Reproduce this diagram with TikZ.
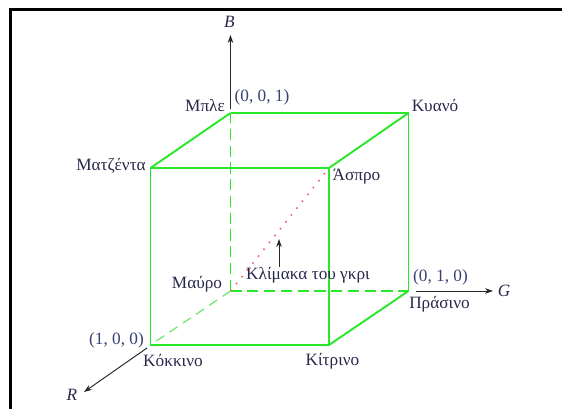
\documentclass[tikz,border=0pt]{standalone}
\usepackage{fontspec}
\setmainfont{Liberation Serif}
\usepackage{xcolor}
\definecolor{cubegreen}{RGB}{40,232,40}
\definecolor{palegreen}{RGB}{110,232,110}
\definecolor{greyred}{RGB}{245,95,95}
\definecolor{inkblue}{RGB}{40,40,75}
\definecolor{coordblue}{RGB}{55,65,115}
\usetikzlibrary{arrows.meta, positioning}

\begin{document}
\begin{tikzpicture}[x=0.022cm, y=-0.022cm,
    edge/.style={cubegreen, line width=0.8pt},
    boldedge/.style={cubegreen, line width=1.2pt},
    hidden/.style={cubegreen, line width=1.2pt, dash pattern=on 7pt off 3.5pt},
    faint/.style={palegreen, line width=0.8pt, dash pattern=on 6pt off 4pt},
    axis/.style={black!85, line width=0.6pt, -{Stealth[length=5pt,width=3.5pt]}},
    lbl/.style={text=inkblue, inner sep=1pt, font=\fontsize{10.8}{13}\selectfont},
    crd/.style={lbl, text=coordblue}]
  \useasboundingbox (0,0) rectangle (562,409);

  % frame
  \draw[line width=1.3pt] (10.5,409) -- (10.5,9.5) -- (562,9.5);

  % cube corners
  \coordinate (black)   at (230.5,291);
  \coordinate (blue)    at (230.5,113);
  \coordinate (cyan)    at (408.5,113);
  \coordinate (green)   at (408.5,291);
  \coordinate (red)     at (150.5,345);
  \coordinate (yellow)  at (329,345);
  \coordinate (magenta) at (150.5,168);
  \coordinate (white)   at (329,168);

  % hidden edges
  \draw[hidden] (black) -- (blue);
  \draw[hidden] (black) -- (green);
  \draw[faint] (black) -- (red);
  \draw[greyred, line width=1pt, dash pattern=on 1pt off 4.5pt] (black) -- (white);

  % visible edges
  \draw[edge] (red) -- (yellow) -- (white) -- (magenta) -- cycle;
  \draw[edge] (blue) -- (cyan) -- (green);
  \draw[boldedge] (blue) -- (magenta);
  \draw[boldedge] (cyan) -- (white);
  \draw[boldedge] (green) -- (yellow);

  % axes
  \coordinate (bStart) at (230.5,109);
  \coordinate (bEnd)   at (230.5,35);
  \coordinate (gStart) at (415.5,291);
  \coordinate (gEnd)   at (493,291);
  \coordinate (rStart) at (147,348);
  \coordinate (rEnd)   at (84,392);
  \draw[axis] (bStart) -- (bEnd);
  \draw[axis] (gStart) -- (gEnd);
  \draw[axis] (rStart) -- (rEnd);
  \node[lbl] (labB) at (229.5,22) {\itshape B};
  \node[lbl] (labG) at (504,291) {\itshape G};
  \node[lbl] (labR) at (72,395) {\itshape R};

  % grey scale pointer
  \coordinate (greyFoot) at (279,267);
  \coordinate (greyHead) at (279,239);
  \draw[axis] (greyFoot) -- (greyHead);
  \node[lbl] (greyLab) at (308,275) {Κλίμακα του γκρι};

  % corner labels
  \node[lbl] (blueLab)    at (205,106)   {Μπλε};
  \node[crd] (blueCrd)    at (262,97.5)  {(0, 0, 1)};
  \node[lbl] (cyanLab)    at (435,106)   {Κυανό};
  \node[lbl] (magentaLab) at (111,165.5) {Ματζέντα};
  \node[lbl] (whiteLab)   at (356.5,176.5) {Άσπρο};
  \node[lbl] (blackLab)   at (197,284)   {Μαύρο};
  \node[crd] (greenCrd)   at (440.5,277) {(0, 1, 0)};
  \node[lbl] (greenLab)   at (439.5,304) {Πράσινο};
  \node[crd] (redCrd)     at (116.5,340) {(1, 0, 0)};
  \node[lbl] (redLab)     at (173,361)   {Κόκκινο};
  \node[lbl] (yellowLab)  at (332.5,361) {Κίτρινο};
\end{tikzpicture}
\end{document}
